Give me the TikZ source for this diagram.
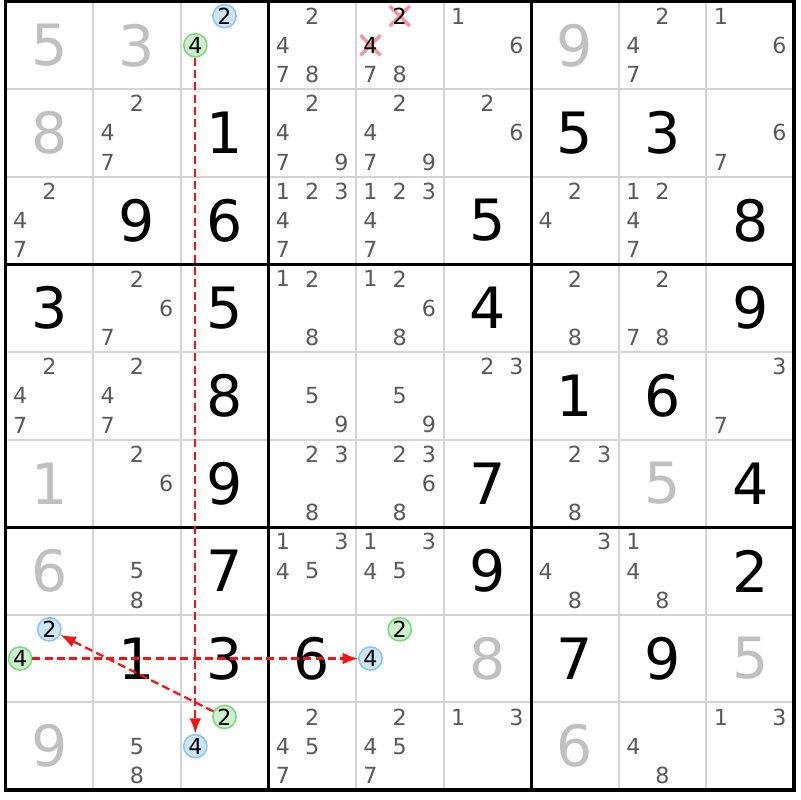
\documentclass[tikz,border=0pt]{standalone}
\usepackage{fontspec}
\setmainfont{DejaVu Sans}
\usetikzlibrary{arrows.meta,shapes.misc,positioning}

\definecolor{givengrey}{RGB}{192,192,192}
\definecolor{candgrey}{RGB}{90,90,90}
\definecolor{gridgrey}{RGB}{212,212,212}
\definecolor{bluefill}{RGB}{207,230,255}
\definecolor{blueline}{RGB}{140,196,250}
\definecolor{greenfill}{RGB}{205,242,205}
\definecolor{greenline}{RGB}{125,215,125}
\definecolor{crosspink}{RGB}{244,150,160}
\definecolor{linkred}{RGB}{245,20,20}

\begin{document}
\begin{tikzpicture}[x=1cm,y=-1cm,
		big/.style={font=\fontsize{18.5}{20}\selectfont,inner sep=0pt},
		given/.style={big,text=givengrey},
		solved/.style={big,text=black},
		cand/.style={font=\fontsize{7.2}{8}\selectfont,text=candgrey,inner sep=0pt},
		bluecand/.style={cand,text=black,shape=circle,draw=blueline,fill=bluefill,line width=0.5pt,minimum size=0.265cm},
		greencand/.style={cand,text=black,shape=circle,draw=greenline,fill=greenfill,line width=0.5pt,minimum size=0.265cm},
		struck/.style={shape=cross out,draw=crosspink,line width=1.1pt,minimum size=0.19cm,inner sep=0pt},
		thinline/.style={draw=gridgrey,line width=0.65pt},
		boxline/.style={draw=black,line width=1.05pt},
		link/.style={draw=linkred,line width=0.7pt,dash pattern=on 2.6pt off 1.4pt,-{Latex[length=5pt,width=3.8pt]}}]
		\useasboundingbox (-0.0628,-0.0171) rectangle (9.0692,9.1149);
		\fill[white] (-0.0628,-0.0171) rectangle (9.0692,9.1149);

		\foreach \i in {1,2,4,5,7,8} {
			\draw[thinline] (\i,0) -- (\i,9);
			\draw[thinline] (0,\i) -- (9,\i);
		}
		\foreach \i in {3,6} {
			\draw[boxline] (\i,0) -- (\i,9);
			\draw[boxline] (0,\i) -- (9,\i);
		}
		\draw[boxline] (0,0) rectangle (9,9);

		\foreach \r/\c/\v in {1/1/5,1/2/3,1/7/9,2/1/8,6/1/1,6/8/5,7/1/6,8/6/8,8/9/5,9/1/9,9/7/6}
			\node[given] (g\r\c) at (\c-0.5,\r-0.5) {\v};
		\foreach \r/\c/\v in {2/3/1,2/7/5,2/8/3,3/2/9,3/3/6,3/6/5,3/9/8,4/1/3,4/3/5,4/6/4,4/9/9,
				5/3/8,5/7/1,5/8/6,6/3/9,6/6/7,6/9/4,7/3/7,7/6/9,7/9/2,8/2/1,8/3/3,8/4/6,8/7/7,8/8/9}
			\node[solved] (s\r\c) at (\c-0.5,\r-0.5) {\v};

		\foreach \r/\c/\ds in {1/4/{2,4,7,8},1/5/{7,8},1/6/{1,6},1/8/{2,4,7},1/9/{1,6},
				2/2/{2,4,7},2/4/{2,4,7,9},2/5/{2,4,7,9},2/6/{2,6},2/9/{6,7},
				3/1/{2,4,7},3/4/{1,2,3,4,7},3/5/{1,2,3,4,7},3/7/{2,4},3/8/{1,2,4,7},
				4/2/{2,6,7},4/4/{1,2,8},4/5/{1,2,6,8},4/7/{2,8},4/8/{2,7,8},
				5/1/{2,4,7},5/2/{2,4,7},5/4/{5,9},5/5/{5,9},5/6/{2,3},5/9/{3,7},
				6/2/{2,6},6/4/{2,3,8},6/5/{2,3,6,8},6/7/{2,3,8},
				7/2/{5,8},7/4/{1,3,4,5},7/5/{1,3,4,5},7/7/{3,4,8},7/8/{1,4,8},
				9/2/{5,8},9/4/{2,4,5,7},9/5/{2,4,5,7},9/6/{1,3},9/8/{4,8},9/9/{1,3}}
			\foreach \d in \ds
				\node[cand] (n\r\c\d) at ({\c-1+(mod(\d-1,3)+0.5)/3},{\r-1+(floor((\d-1)/3)+0.5)/3}) {\d};

		\foreach \d in {2,4} {
			\node[struck] (x15\d) at ({4+(mod(\d-1,3)+0.5)/3},{(floor((\d-1)/3)+0.5)/3}) {};
			\node[cand,text=black] (n15\d) at (x15\d) {\d};
		}

		\foreach \r/\c/\d/\s in {1/3/2/bluecand,1/3/4/greencand,8/1/2/bluecand,8/1/4/greencand,
				8/5/2/greencand,8/5/4/bluecand,9/3/2/greencand,9/3/4/bluecand}
			\node[\s] (n\r\c\d) at ({\c-1+(mod(\d-1,3)+0.5)/3},{\r-1+(floor((\d-1)/3)+0.5)/3}) {\d};

		\draw[link] (n134) -- (n934);
		\draw[link] (n814) -- (n854);
		\draw[link] (n932) -- (n812);
	\end{tikzpicture}
\end{document}
